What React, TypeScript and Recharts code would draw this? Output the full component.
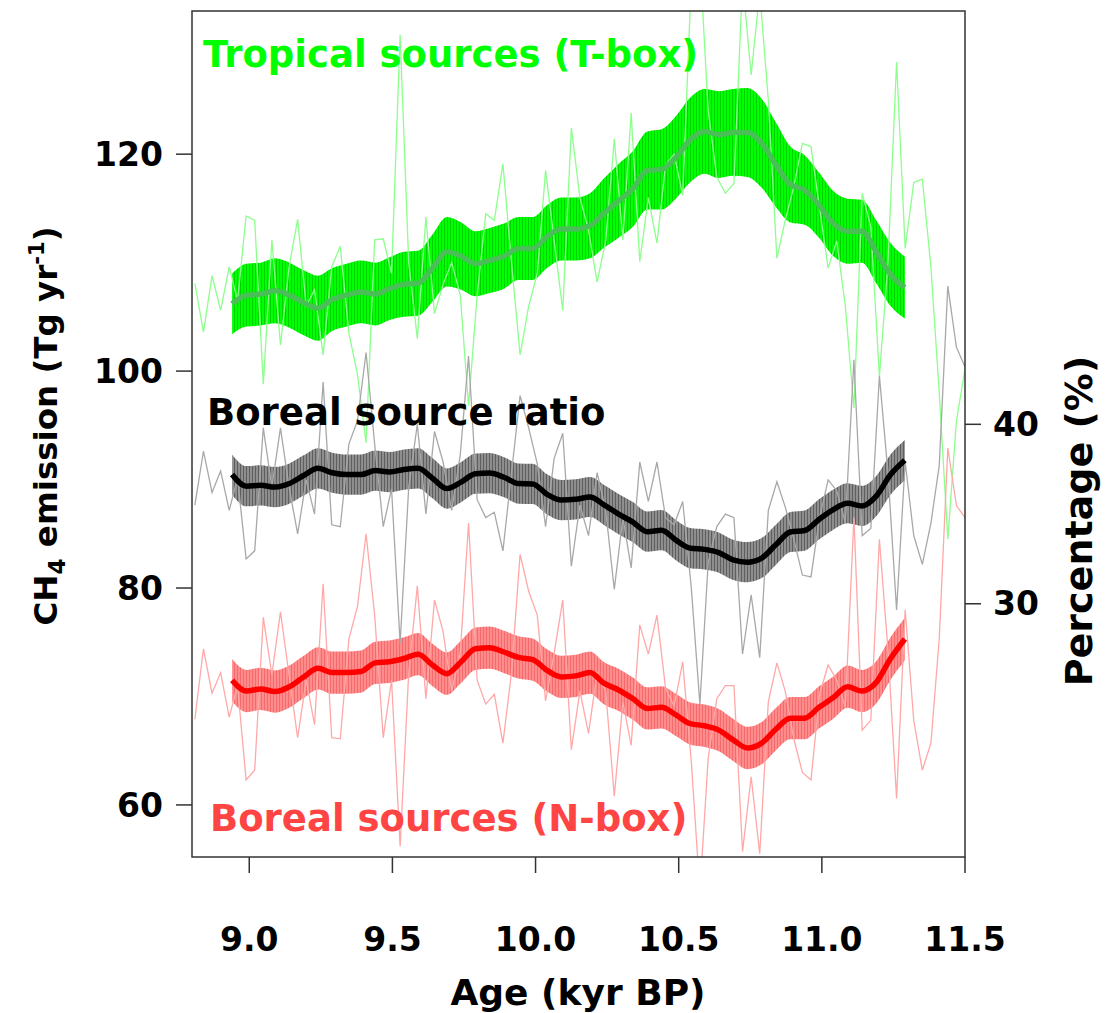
import React from 'react';
import { Area, ComposedChart, Line, XAxis, YAxis } from 'recharts';

const W = 1120;
const H = 1013;
const FONT = '"DejaVu Sans", Verdana, sans-serif';

// sample ages (kyr BP) of the raw model output
const rawAge = [
  8.81, 8.84, 8.87, 8.9, 8.93, 8.959, 8.989, 9.019, 9.049, 9.079,
  9.109, 9.139, 9.169, 9.199, 9.228, 9.258, 9.288, 9.318, 9.348, 9.378,
  9.408, 9.438, 9.468, 9.497, 9.527, 9.557, 9.587, 9.617, 9.647, 9.677,
  9.707, 9.737, 9.766, 9.796, 9.826, 9.856, 9.886, 9.916, 9.946, 9.976,
  10.006, 10.035, 10.065, 10.095, 10.125, 10.155, 10.185, 10.215, 10.245, 10.275,
  10.305, 10.334, 10.364, 10.394, 10.424, 10.454, 10.484, 10.514, 10.544, 10.574,
  10.603, 10.633, 10.663, 10.693, 10.723, 10.753, 10.783, 10.813, 10.843, 10.872,
  10.902, 10.932, 10.962, 10.992, 11.022, 11.052, 11.082, 11.112, 11.141, 11.171,
  11.201, 11.231, 11.261, 11.291, 11.321, 11.351, 11.381, 11.41, 11.44, 11.47,
  11.5,
];

const tropicalRaw = [
  108.1, 103.6, 108.8, 105.6, 109.6, 106.5, 114.3, 113.9, 98.8, 112.1,
  102.4, 109.6, 114.0, 106.0, 107.5, 101.5, 109.6, 111.5, 103.5, 99.7,
  93.4, 112.1, 112.2, 109.0, 131.0, 110.0, 103.0, 114.2, 105.3, 108.0,
  110.0, 107.0, 96.8, 107.0, 114.5, 113.9, 119.1, 110.0, 101.5, 106.0,
  109.0, 118.5, 112.0, 105.6, 122.4, 116.0, 113.0, 108.2, 112.0, 121.4,
  112.1, 123.8, 110.1, 116.0, 111.8, 119.0, 120.0, 116.2, 136.0, 138.0,
  124.0, 117.9, 116.4, 117.3, 136.0, 127.3, 135.0, 125.0, 110.4, 113.9,
  117.0, 121.0, 120.7, 115.0, 109.5, 112.0, 106.0, 96.6, 116.4, 113.3,
  99.5, 110.0, 128.5, 111.3, 117.4, 117.7, 109.6, 98.0, 84.5, 95.4,
  100.2,
];

const borealRaw = [
  67.9, 74.4, 70.3, 72.2, 68.1, 71.0, 62.3, 63.2, 77.3, 72.0,
  77.8, 72.0, 66.2, 71.5, 67.4, 80.4, 66.2, 66.1, 75.3, 78.3,
  85.0, 77.5, 66.2, 71.5, 56.2, 72.2, 80.2, 69.8, 78.9, 76.0,
  70.5, 74.0, 86.0, 71.5, 69.3, 70.2, 65.7, 72.2, 83.1, 79.7,
  77.5, 69.6, 74.0, 78.9, 65.1, 70.5, 66.6, 72.2, 70.5, 60.8,
  69.5, 65.5, 76.6, 73.9, 77.5, 70.8, 69.1, 73.2, 64.0, 52.0,
  64.3, 69.8, 71.0, 71.0, 55.7, 62.6, 55.5, 69.5, 73.1, 70.5,
  66.1, 63.0, 62.3, 70.2, 72.9, 71.5, 69.0, 86.5, 66.9, 67.8,
  84.5, 74.3, 60.6, 78.0, 67.8, 63.2, 65.7, 75.3, 92.9, 87.6,
  86.5,
];

const ratioRaw = [
  35.5, 38.5, 36.2, 37.4, 35.2, 37.0, 32.5, 32.95, 39.8, 36.5,
  39.8, 36.5, 33.9, 36.9, 35.0, 42.35, 34.4, 34.3, 38.9, 40.2,
  44.0, 38.9, 34.3, 36.4, 27.8, 36.5, 40.0, 35.0, 39.6, 37.9,
  35.2, 38.3, 43.8, 35.8, 34.8, 35.1, 32.95, 37.3, 41.6, 39.8,
  37.8, 34.3, 38.1, 39.5, 32.1, 35.5, 33.8, 37.3, 35.2, 30.8,
  34.8, 32.0, 37.9, 35.7, 37.9, 34.8, 34.4, 35.7, 30.9, 24.4,
  32.3, 34.3, 35.0, 34.8, 27.2, 30.5, 27.0, 35.2, 36.8, 35.4,
  33.6, 31.6, 31.5, 34.8, 36.9, 36.3, 34.5, 43.6, 33.8, 34.2,
  42.7, 37.3, 29.65, 37.9, 33.8, 32.2, 34.5, 37.7, 47.7, 44.3,
  43.2,
];

// smoothed curves and their uncertainty
const smoothAge = [
  8.94, 8.99, 9.04, 9.09, 9.14, 9.19, 9.24, 9.29, 9.34, 9.39,
  9.44, 9.49, 9.54, 9.59, 9.64, 9.69, 9.74, 9.79, 9.84, 9.89,
  9.94, 9.99, 10.04, 10.09, 10.14, 10.19, 10.24, 10.29, 10.34, 10.39,
  10.44, 10.49, 10.54, 10.59, 10.64, 10.69, 10.74, 10.79, 10.84, 10.89,
  10.94, 10.99, 11.04, 11.09, 11.14, 11.19, 11.24, 11.29,
];

const tropicalSmooth = [
  106.2, 107.0, 107.1, 107.4, 107.0, 106.3, 105.8, 106.6, 107.0, 107.3,
  107.1, 107.6, 108.0, 108.1, 109.5, 111.0, 110.6, 109.9, 110.2, 110.6,
  111.3, 111.3, 112.4, 113.1, 113.1, 113.4, 114.6, 115.7, 116.8, 118.5,
  118.6, 119.7, 121.3, 122.1, 121.8, 122.0, 122.0, 121.0, 119.0, 117.2,
  116.7, 115.3, 113.6, 112.9, 112.9, 111.0, 108.9, 107.7,
];
const tropicalErr = [
  2.8, 2.9, 2.9, 3.0, 3.0, 3.0, 3.0, 2.9, 2.9, 2.9,
  2.9, 2.9, 3.0, 3.0, 3.1, 3.2, 3.1, 3.0, 3.0, 3.0,
  2.9, 2.9, 2.9, 2.9, 2.9, 3.0, 3.2, 3.4, 3.5, 3.6,
  3.7, 3.8, 3.9, 3.9, 4.0, 4.0, 4.1, 4.1, 3.9, 3.5,
  3.2, 3.0, 3.0, 3.0, 2.9, 2.9, 2.9, 2.85,
];

const ratioSmooth = [
  37.2, 36.55, 36.6, 36.5, 36.7, 37.15, 37.55, 37.3, 37.2, 37.2,
  37.42, 37.34, 37.48, 37.55, 37.0, 36.42, 36.78, 37.25, 37.28, 37.05,
  36.7, 36.68, 36.1, 35.78, 35.82, 35.95, 35.5, 35.0, 34.55, 34.02,
  34.1, 33.55, 33.1, 33.03, 32.85, 32.45, 32.32, 32.55, 33.3, 34.0,
  34.08, 34.7, 35.25, 35.6, 35.45, 36.0, 37.2, 38.0,
];
const ratioErr = 1.12;

const borealSmooth = [
  71.5, 70.5, 70.7, 70.45, 70.9, 71.8, 72.6, 72.2, 72.2, 72.3,
  73.1, 73.2, 73.5, 73.9, 72.9, 72.1, 73.2, 74.4, 74.5, 74.1,
  73.6, 73.4, 72.4, 71.8, 71.9, 72.2, 71.2, 70.6, 69.8, 68.9,
  69.0, 68.3, 67.5, 67.3, 66.9, 66.0, 65.25, 65.7, 67.0, 68.0,
  68.0, 69.0, 69.9, 70.9, 70.5, 71.3, 73.5, 75.3,
];
const borealErr = 1.95;

const ageTicks = [9, 9.5, 10, 10.5, 11, 11.5];
const emissionTicks = [60, 80, 100, 120];
const percentTicks = [30, 40];

const tickStyle = { fontFamily: FONT, fontSize: 33, fontWeight: 'bold', fill: '#000' };
const tickLine = { stroke: '#333', strokeWidth: 1.5 };
const titleStyle = { fontFamily: FONT, fontWeight: 'bold', fill: '#000' } as const;

export default function App() {
  const rawRows = rawAge.map((age, i) => ({
    age,
    tropical: tropicalRaw[i],
    boreal: borealRaw[i],
    ratio: ratioRaw[i],
  }));
  const smoothRows = smoothAge.map((age, i) => ({
    age,
    tropical: tropicalSmooth[i],
    tropicalBand: [tropicalSmooth[i] - tropicalErr[i], tropicalSmooth[i] + tropicalErr[i]],
    ratio: ratioSmooth[i],
    ratioBand: [ratioSmooth[i] - ratioErr, ratioSmooth[i] + ratioErr],
    boreal: borealSmooth[i],
    borealBand: [borealSmooth[i] - borealErr, borealSmooth[i] + borealErr],
  }));

  return (
    <div style={{ position: 'absolute', left: 0, top: 0, width: W, height: H, background: '#fff' }}>
      <svg width={0} height={0} style={{ position: 'absolute' }}>
        <defs>
          <pattern id="hatchGreen" patternUnits="userSpaceOnUse" width="3" height="8">
            <rect width="3" height="8" fill="#00ff00" />
            <rect width="1" height="8" fill="#00d400" />
          </pattern>
          <pattern id="hatchGray" patternUnits="userSpaceOnUse" width="3" height="8">
            <rect width="3" height="8" fill="#8e8e8e" />
            <rect width="1" height="8" fill="#5e5e5e" />
          </pattern>
          <pattern id="hatchRed" patternUnits="userSpaceOnUse" width="3" height="8">
            <rect width="3" height="8" fill="#ff8c8c" />
            <rect width="1" height="8" fill="#f56a6a" />
          </pattern>
        </defs>
      </svg>

      {/* plot box: x 192..965, y 11..857 */}
      <ComposedChart width={W} height={H} margin={{ top: 11, right: 95, bottom: 96, left: 132 }}>
        <XAxis
          type="number"
          dataKey="age"
          domain={[8.8, 11.5]}
          ticks={ageTicks}
          interval={0}
          allowDataOverflow
          height={60}
          axisLine={false}
          tickSize={16}
          tickMargin={55}
          tickLine={tickLine}
          tick={tickStyle}
          tickFormatter={(v: number) => v.toFixed(1)}
        />
        <YAxis
          yAxisId="ch4"
          type="number"
          domain={[55.2, 133.2]}
          ticks={emissionTicks}
          interval={0}
          allowDataOverflow
          width={60}
          axisLine={false}
          tickSize={16}
          tickMargin={13}
          tickLine={tickLine}
          tick={tickStyle}
        />
        <YAxis
          yAxisId="pct"
          orientation="right"
          type="number"
          domain={[15.89, 63.03]}
          ticks={percentTicks}
          interval={0}
          allowDataOverflow
          width={60}
          axisLine={false}
          tickSize={16}
          tickMargin={12}
          tickLine={tickLine}
          tick={tickStyle}
        />

        <Line data={rawRows} yAxisId="ch4" dataKey="tropical" type="linear" stroke="#8cff8c" strokeWidth={1.3} dot={false} isAnimationActive={false} />
        <Line data={rawRows} yAxisId="pct" dataKey="ratio" type="linear" stroke="#a8a8a8" strokeWidth={1.3} dot={false} isAnimationActive={false} />
        <Line data={rawRows} yAxisId="ch4" dataKey="boreal" type="linear" stroke="#ffa8a8" strokeWidth={1.3} dot={false} isAnimationActive={false} />

        <Area data={smoothRows} yAxisId="ch4" dataKey="tropicalBand" type="monotone" stroke="none" fill="url(#hatchGreen)" fillOpacity={1} isAnimationActive={false} />
        <Area data={smoothRows} yAxisId="pct" dataKey="ratioBand" type="monotone" stroke="none" fill="url(#hatchGray)" fillOpacity={1} isAnimationActive={false} />
        <Area data={smoothRows} yAxisId="ch4" dataKey="borealBand" type="monotone" stroke="none" fill="url(#hatchRed)" fillOpacity={1} isAnimationActive={false} />

        <Line data={smoothRows} yAxisId="ch4" dataKey="tropical" type="monotone" stroke="#48c055" strokeWidth={5.5} dot={false} isAnimationActive={false} />
        <Line data={smoothRows} yAxisId="pct" dataKey="ratio" type="monotone" stroke="#000" strokeWidth={5.5} dot={false} isAnimationActive={false} />
        <Line data={smoothRows} yAxisId="ch4" dataKey="boreal" type="monotone" stroke="#ff0000" strokeWidth={5.5} dot={false} isAnimationActive={false} />
      </ComposedChart>

      <svg width={W} height={H} style={{ position: 'absolute', left: 0, top: 0, pointerEvents: 'none' }}>
        <rect x={192} y={11} width={773} height={846} fill="none" stroke="#333" strokeWidth={1.5} />
        <text x={203} y={67} fontFamily={FONT} fontSize={37} fontWeight="bold" fill="#00ff00">Tropical sources (T-box)</text>
        <text x={207} y={425} fontFamily={FONT} fontSize={37} fontWeight="bold" fill="#000">Boreal source ratio</text>
        <text x={210} y={831} fontFamily={FONT} fontSize={37} fontWeight="bold" fill="#ff4444">Boreal sources (N-box)</text>
        <text x={578} y={1005} textAnchor="middle" fontSize={36} {...titleStyle}>Age (kyr BP)</text>
        <text transform="translate(57, 426) rotate(-90)" textAnchor="middle" fontSize={32.5} {...titleStyle}>
          CH<tspan dy={8} fontSize={23}>4</tspan>
          <tspan dy={-8}> emission (Tg yr</tspan>
          <tspan dy={-13} fontSize={21}>-1</tspan>
          <tspan dy={13}>)</tspan>
        </text>
        <text transform="translate(1092, 521) rotate(-90)" textAnchor="middle" fontSize={38} {...titleStyle}>Percentage (%)</text>
      </svg>
    </div>
  );
}
